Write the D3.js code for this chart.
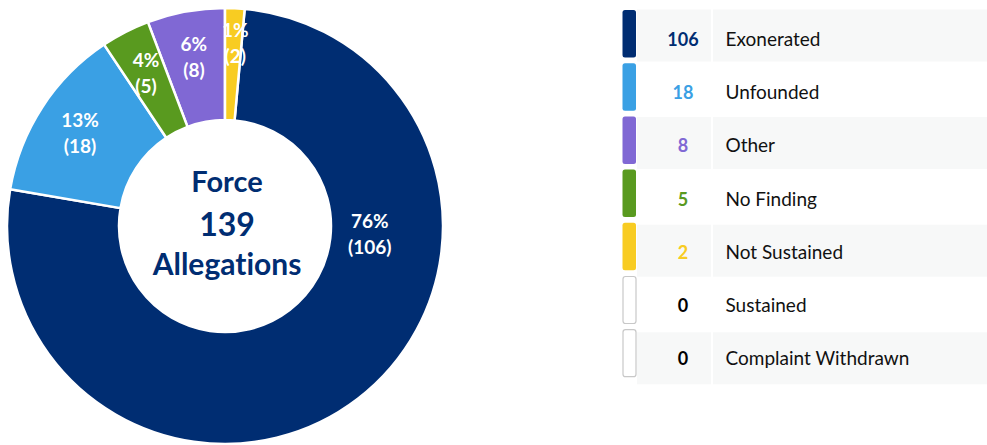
<!DOCTYPE html>
<html>
<head>
<meta charset="utf-8">
<script src="https://cdn.jsdelivr.net/npm/d3@7"></script>
<style>
  body { margin: 0; background: #fff; }
  svg { display: block; font-family: Lato, "Open Sans", sans-serif; font-variant-ligatures: none; }
</style>
</head>
<body>
<svg id="chart" width="987" height="445"></svg>
<script>
// legend rows, top to bottom
const categories = ['Exonerated', 'Unfounded', 'Other', 'No Finding', 'Not Sustained', 'Sustained', 'Complaint Withdrawn'];
const counts = [106, 18, 8, 5, 2, 0, 0];
const colors = ['#002d72', '#3aa0e4', '#8068d4', '#599a1f', '#f8cc22', '#ffffff', '#ffffff'];
// order of the slices, clockwise from 12 o'clock
const sliceOrder = ['Not Sustained', 'Exonerated', 'Unfounded', 'No Finding', 'Other'];
const centerTitle = 'Force';
const centerUnit = 'Allegations';

const svg = d3.select('#chart');
const total = d3.sum(counts);

const cx = 225;
const cy = 226;
const r_out = 218;
const r_in = 106;

const rows = categories.map((c, i) => ({ name: c, value: counts[i], color: colors[i] }));
const sliceData = rows.filter(d => d.value > 0);

const pie = d3.pie()
  .value(d => d.value)
  .sort((a, b) => sliceOrder.indexOf(a.name) - sliceOrder.indexOf(b.name));

const arc = d3.arc().innerRadius(r_in).outerRadius(r_out);
const labelArc = d3.arc().innerRadius(173).outerRadius(173);

const g = svg.append('g').attr('transform', `translate(${cx},${cy})`);
const arcs = pie(sliceData);

g.selectAll('path.slice')
  .data(arcs)
  .enter()
  .append('path')
  .attr('class', 'slice')
  .attr('d', arc)
  .attr('fill', d => d.data.color)
  .attr('stroke', '#fff')
  .attr('stroke-width', 2.5);

// slice labels: the big slice label sits near 3 o'clock, the rest at mid angle
const labelPos = (d) => {
  if (d.data.name === 'Exonerated') {
    const a = 93 * Math.PI / 180;
    return [145 * Math.sin(a), -145 * Math.cos(a)];
  }
  if (d.data.name === 'Not Sustained') {
    const c = d3.arc().innerRadius(184).outerRadius(184).centroid(d);
    return [c[0] + 2, c[1]];
  }
  return labelArc.centroid(d);
};

const fmtPct = v => `${Math.round(100 * v / total)}%`;

arcs.forEach((d) => {
  const p = labelPos(d);
  const t = g.append('text')
    .attr('x', p[0])
    .attr('y', p[1])
    .attr('text-anchor', 'middle')
    .attr('fill', '#fff')
    .attr('font-size', '19px')
    .attr('font-weight', 'bold');
  t.append('tspan').attr('x', p[0]).attr('dy', '-0.27em').text(fmtPct(d.data.value));
  t.append('tspan').attr('x', p[0]).attr('dy', '1.37em').text(`(${d.data.value})`);
});

// center text
const navy = colors[0];
g.append('text')
  .attr('x', 2).attr('y', -34)
  .attr('text-anchor', 'middle')
  .attr('fill', navy).attr('font-weight', 'bold').attr('font-size', '29px')
  .text(centerTitle);
g.append('text')
  .attr('x', 2).attr('y', 10)
  .attr('text-anchor', 'middle')
  .attr('fill', navy).attr('font-weight', 'bold').attr('font-size', '32px')
  .text(total);
g.append('text')
  .attr('x', 2).attr('y', 49)
  .attr('text-anchor', 'middle')
  .attr('fill', navy).attr('font-weight', 'bold').attr('font-size', '30px')
  .text(centerUnit);

// legend table
const leg = svg.append('g');
const barTop = i => 10 + i * 53.2;
const bgTop = i => 9.5 + i * 53.8;

rows.forEach((d, i) => {
  if (i % 2 === 0) {
    leg.append('rect')
      .attr('x', 637).attr('y', bgTop(i))
      .attr('width', 74).attr('height', 52)
      .attr('fill', '#f7f8f8');
    leg.append('rect')
      .attr('x', 713).attr('y', bgTop(i))
      .attr('width', 274).attr('height', 52)
      .attr('fill', '#f7f8f8');
  }
  const empty = d.value === 0;
  leg.append('rect')
    .attr('x', empty ? 623 : 622.5).attr('y', barTop(i) + (empty ? 0.5 : 0))
    .attr('width', empty ? 13 : 13.5).attr('height', empty ? 47 : 47.5)
    .attr('rx', 2.5)
    .attr('fill', d.color)
    .attr('stroke', empty ? '#c8c8c8' : 'none')
    .attr('stroke-width', 1.2);
  leg.append('text')
    .attr('x', 683).attr('y', barTop(i) + 36)
    .attr('text-anchor', 'middle')
    .attr('font-size', '18px').attr('font-weight', 'bold')
    .attr('fill', empty ? '#000' : d.color)
    .text(d.value);
  leg.append('text')
    .attr('x', 725.5).attr('y', barTop(i) + 36)
    .attr('font-size', '19px')
    .attr('fill', '#111')
    .text(d.name);
});
</script>
</body>
</html>
